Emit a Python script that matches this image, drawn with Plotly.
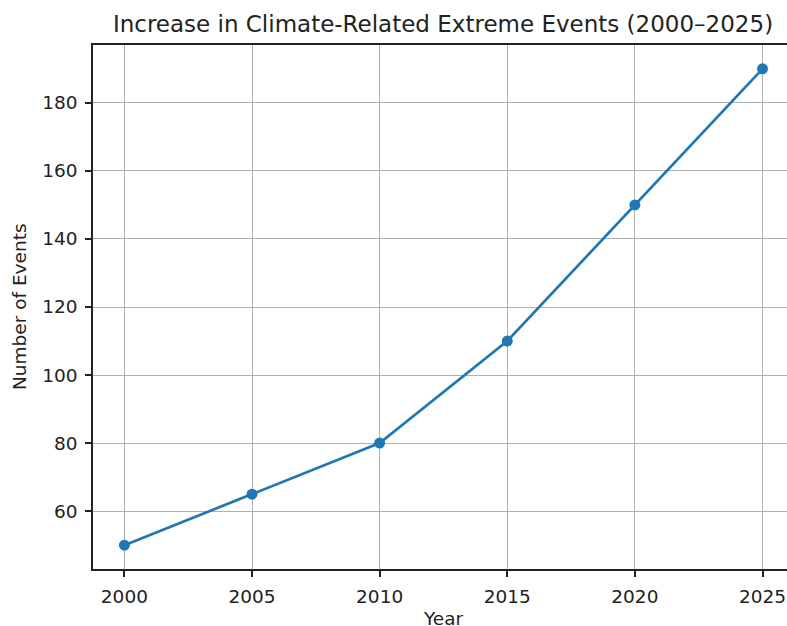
import plotly.graph_objects as go

years = [2000, 2005, 2010, 2015, 2020, 2025]
events = [50, 65, 80, 110, 150, 190]
x_ticks = [2000, 2005, 2010, 2015, 2020, 2025]
y_ticks = [60, 80, 100, 120, 140, 160, 180]

W, H = 787, 626
L, R, T, B = 93, 0, 45, 57

fig = go.Figure()
fig.add_trace(go.Scatter(
    x=years, y=events, mode="lines+markers",
    line=dict(color="#1f77b4", width=2.7),
    marker=dict(color="#1f77b4", size=11),
    showlegend=False,
))

font = dict(family="DejaVu Sans", size=18.5, color="#222222")
axis_common = dict(
    showgrid=True, gridcolor="#b0b0b0", gridwidth=1.4,
    showline=True, linecolor="#222222", linewidth=1.5,
    ticks="outside", ticklen=6, tickwidth=1.5, tickcolor="#222222",
    tickfont=font, zeroline=False,
)
fig.update_layout(
    width=W, height=H,
    margin=dict(l=L, r=R, t=T, b=B, pad=0),
    paper_bgcolor="white", plot_bgcolor="white",
    title=dict(
        text="Increase in Climate-Related Extreme Events (2000–2025)",
        font=dict(family="DejaVu Sans", size=23, color="#222222"),
        xref="container", x=443 / W, xanchor="center",
        yref="container", y=1 - 24 / H, yanchor="middle",
    ),
    xaxis=dict(range=[1998.77, 2025.96], tickvals=x_ticks, mirror=True,
               ticklabelstandoff=4, **axis_common),
    yaxis=dict(range=[43, 197], tickvals=y_ticks, ticklabelstandoff=4,
               **axis_common),
    annotations=[
        dict(text="Year", xref="paper", yref="paper",
             x=(443 - L) / (W - L), y=-(618 - (H - B)) / (H - B - T),
             xanchor="center", yanchor="middle", showarrow=False,
             font=dict(family="DejaVu Sans", size=18.5, color="#222222")),
        dict(text="Number of Events", xref="paper", yref="paper",
             x=(19 - L) / (W - L), y=0.5, textangle=-90,
             xanchor="center", yanchor="middle", showarrow=False,
             font=dict(family="DejaVu Sans", size=18.5, color="#222222")),
    ],
)
fig.write_html(
    "out.html",
    config={"displayModeBar": False},
    post_script="document.body.style.margin='0';document.body.style.overflow='hidden';",
)
